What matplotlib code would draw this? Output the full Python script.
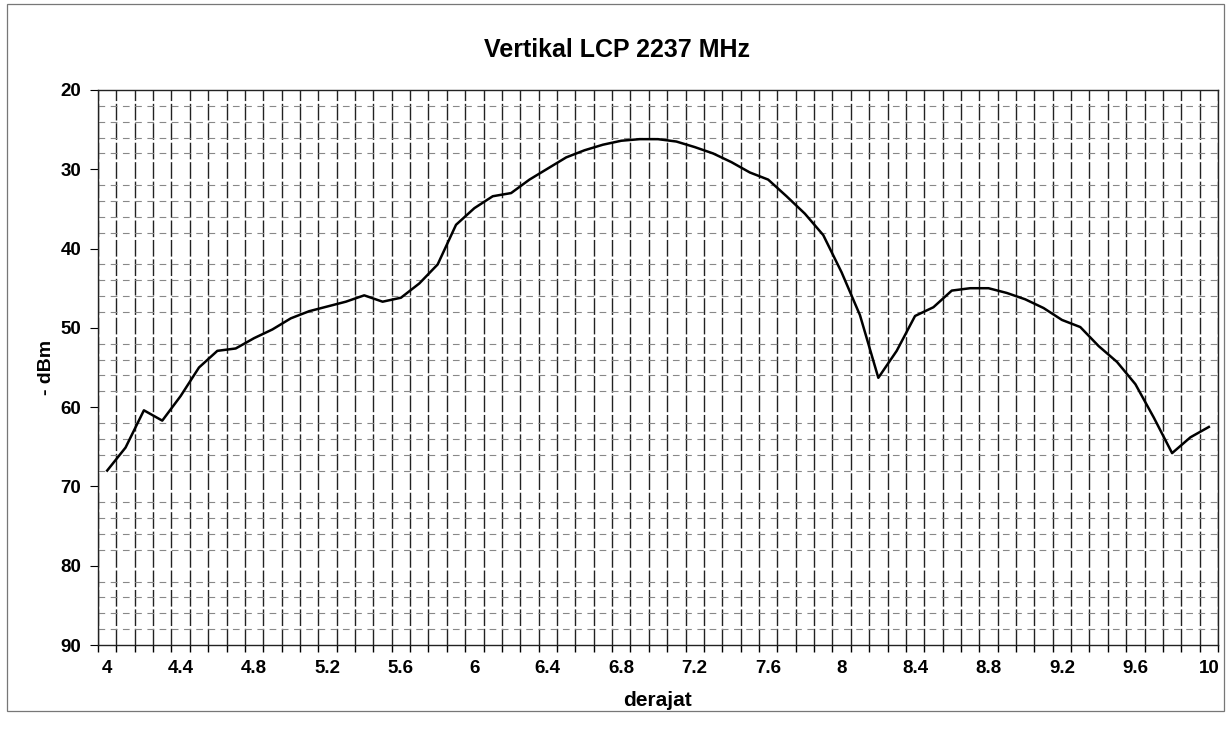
import numpy as np
import matplotlib
matplotlib.use("Agg")
import matplotlib.pyplot as plt
from matplotlib.patches import Rectangle

plt.rcParams['font.family'] = ['Liberation Sans', 'DejaVu Sans']

# derajat 4.0 .. 10.0 step 0.1 (category axis)
derajat = [4.0, 4.1, 4.2, 4.3, 4.4, 4.5, 4.6, 4.7, 4.8, 4.9,
           5.0, 5.1, 5.2, 5.3, 5.4, 5.5, 5.6, 5.7, 5.8, 5.9,
           6.0, 6.1, 6.2, 6.3, 6.4, 6.5, 6.6, 6.7, 6.8, 6.9,
           7.0, 7.1, 7.2, 7.3, 7.4, 7.5, 7.6, 7.7, 7.8, 7.9,
           8.0, 8.1, 8.2, 8.3, 8.4, 8.5, 8.6, 8.7, 8.8, 8.9,
           9.0, 9.1, 9.2, 9.3, 9.4, 9.5, 9.6, 9.7, 9.8, 9.9, 10.0]
dbm = [68.0, 65.1, 60.4, 61.7, 58.6, 55.0, 52.9, 52.6, 51.3, 50.2,
       48.8, 47.9, 47.3, 46.7, 45.9, 46.7, 46.2, 44.4, 42.0, 37.0,
       34.9, 33.4, 33.0, 31.3, 29.9, 28.5, 27.6, 26.9, 26.4, 26.2,
       26.2, 26.5, 27.2, 28.0, 29.1, 30.4, 31.3, 33.4, 35.6, 38.3,
       43.0, 48.4, 56.3, 52.9, 48.5, 47.4, 45.3, 45.0, 45.0, 45.6,
       46.4, 47.5, 49.0, 49.9, 52.3, 54.3, 57.1, 61.3, 65.8, 63.8, 62.5]
xlabels = ["4", "4.4", "4.8", "5.2", "5.6", "6", "6.4", "6.8", "7.2",
           "7.6", "8", "8.4", "8.8", "9.2", "9.6", "10"]
ylabels = [20, 30, 40, 50, 60, 70, 80, 90]

fig = plt.figure(figsize=(12.31, 7.33), dpi=100)
ax = fig.add_axes([98 / 1231, 1 - 645 / 733, 1120 / 1231, 555 / 733])

# outer chart border
fig.patches.append(Rectangle((0.006, 0.03), 0.988, 0.965, transform=fig.transFigure,
                             fill=False, edgecolor='#777777', linewidth=0.9))

ax.plot(derajat, dbm, color='black', linewidth=1.8, zorder=3)

ax.set_xlim(3.95, 10.05)
ax.set_ylim(90, 20)

# category boundaries -> vertical gridlines
bounds = np.arange(len(derajat) + 1) * 0.1 + 3.95
ax.set_xticks(bounds, minor=True)
ax.set_xticks([float(s) for s in xlabels])
ax.set_xticklabels(xlabels)
ax.tick_params(axis='x', which='major', length=0, pad=11, labelsize=13.5)
ax.tick_params(axis='x', which='minor', length=5, direction='out', width=1)

ax.set_yticks(ylabels)
ax.set_yticks(np.arange(20, 91, 2), minor=True)
ax.tick_params(axis='y', which='major', length=6, direction='out', pad=6, labelsize=13.5)
ax.tick_params(axis='y', which='minor', length=0)
for lab in ax.get_xticklabels() + ax.get_yticklabels():
    lab.set_fontweight('bold')

ax.grid(which='minor', axis='x', color='#222222', linewidth=1.0, linestyle=(0, (12, 2)))
ax.grid(which='minor', axis='y', color='#888888', linewidth=0.8, linestyle=(0, (6, 5)))
ax.set_axisbelow(True)

for s in ax.spines.values():
    s.set_color('#222222')
    s.set_linewidth(1.0)

fig.text(0.501, 0.932, "Vertikal LCP 2237 MHz", ha='center', va='center',
         fontsize=18, fontweight='bold')
ax.set_xlabel("derajat", fontsize=15, fontweight='bold', labelpad=10)
ax.set_ylabel("- dBm", fontsize=14, fontweight='bold', labelpad=4)

fig.savefig("out.png", dpi=100, facecolor='white')
